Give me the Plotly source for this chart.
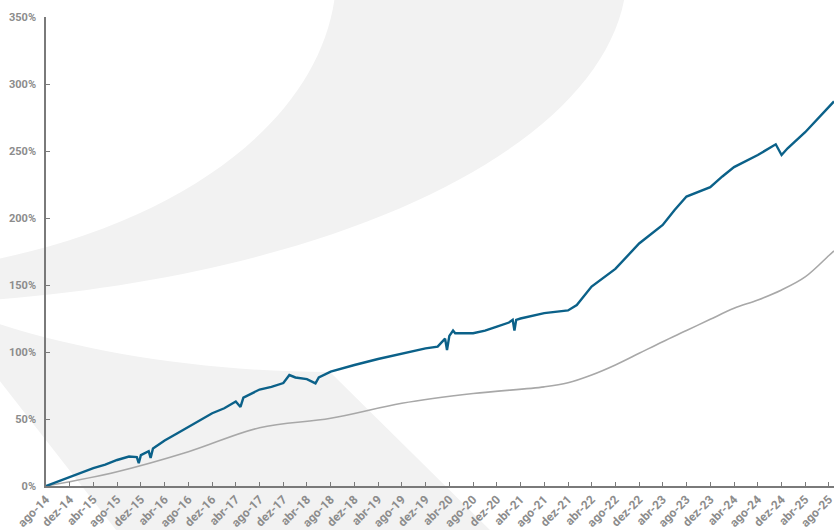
import plotly.graph_objects as go

# ---------------- data ----------------
blue_dates = [
    "2014-08-01", "2014-10-01", "2014-12-01", "2015-02-01", "2015-04-01", "2015-06-01",
    "2015-08-01", "2015-10-01", "2015-11-10", "2015-11-20", "2015-12-01", "2016-01-10",
    "2016-01-20", "2016-02-01", "2016-04-01", "2016-06-01", "2016-08-01", "2016-10-01",
    "2016-12-01", "2017-02-01", "2017-04-01", "2017-04-25", "2017-05-10", "2017-08-01",
    "2017-10-01", "2017-12-01", "2018-01-01", "2018-02-01", "2018-04-01", "2018-05-15",
    "2018-06-01", "2018-08-01", "2018-10-01", "2018-12-01", "2019-04-01", "2019-08-01",
    "2019-12-01", "2020-02-01", "2020-02-20", "2020-03-10", "2020-03-20", "2020-04-01",
    "2020-04-20", "2020-05-01", "2020-08-01", "2020-10-01", "2020-12-01", "2021-02-01",
    "2021-02-20", "2021-03-01", "2021-03-10", "2021-04-01", "2021-08-01", "2021-12-01",
    "2022-01-15", "2022-04-01", "2022-08-01", "2022-12-01", "2023-04-01", "2023-06-01",
    "2023-08-01", "2023-12-01", "2024-02-01", "2024-04-01", "2024-08-01", "2024-11-01",
    "2024-12-01", "2025-01-01", "2025-04-01", "2025-08-01", "2025-08-27",
]
blue_values = [
    0.0, 3.5, 7.0, 10.0, 13.4, 16.0,
    19.4, 22.0, 21.6, 17.0, 23.0, 26.0,
    21.0, 28.0, 34.0, 39.0, 44.0, 49.0,
    54.3, 58.0, 63.0, 59.0, 66.0, 72.0,
    74.0, 76.8, 82.8, 81.0, 79.8, 76.6,
    81.0, 85.3, 88.0, 90.3, 94.8, 99.0,
    102.7, 104.0, 107.0, 110.0, 101.5, 112.0,
    116.0, 114.0, 114.0, 116.0, 119.0, 122.0,
    124.0, 116.0, 124.0, 125.0, 129.0, 131.0,
    135.0, 148.8, 162.0, 181.0, 194.8, 206.0,
    216.0, 223.0, 231.0, 238.0, 247.0, 255.0,
    247.0, 252.0, 264.0, 283.0, 287.0,
]

grey_dates = [
    "2014-08-01", "2015-08-01", "2016-08-01", "2017-08-01", "2018-08-01", "2019-08-01",
    "2020-08-01", "2021-08-01", "2021-12-01", "2022-04-01", "2022-08-01", "2022-12-01",
    "2023-04-01", "2023-08-01", "2023-12-01", "2024-04-01", "2024-08-01", "2024-12-01",
    "2025-04-01", "2025-08-01", "2025-08-27",
]
grey_values = [
    0.0, 10.7, 25.6, 43.5, 50.5, 61.7,
    69.0, 74.0, 77.0, 82.8, 90.3, 99.0,
    107.7, 116.0, 124.4, 132.6, 138.8, 146.3,
    156.0, 172.0, 175.4,
]

tick_dates = []
tick_text = []
months_pt = {4: "abr", 8: "ago", 12: "dez"}
for year in range(2014, 2026):
    for m in (4, 8, 12):
        if (year == 2014 and m < 8) or (year == 2025 and m > 8):
            continue
        tick_dates.append(f"{year}-{m:02d}-01")
        tick_text.append(f"{months_pt[m]}-{str(year)[2:]}")

y_ticks = [0, 50, 100, 150, 200, 250, 300, 350]
y_text = [f"{v}%" for v in y_ticks]

# ---------------- figure ----------------
W, H = 834, 530
L, R, T, B = 46, 834, 17, 486


def px(x, y):
    return (x - L) / (R - L), (B - y) / (B - T)


def path(points_cmds):
    out = []
    for cmd, pts in points_cmds:
        coords = []
        for (x, y) in pts:
            a, b = px(x, y)
            coords.append(f"{a:.4f},{b:.4f}")
        out.append(cmd + " ".join(coords))
    return " ".join(out) + " Z"


wm = "#f2f2f2"
shapes = [
    # crescent
    dict(type="path", xref="paper", yref="paper", layer="below", line_width=0, fillcolor=wm,
         path=path([("M", [(335, -5)]), ("L", [(625, -5)]),
                    ("C", [(600, 150), (330, 280), (-40, 302)]),
                    ("L", [(-40, 266)]),
                    ("C", [(180, 230), (320, 120), (335, -5)])])),
    # lower band
    dict(type="path", xref="paper", yref="paper", layer="below", line_width=0, fillcolor=wm,
         path=path([("M", [(-40, 310)]),
                    ("C", [(60, 350), (200, 372), (330, 372)]),
                    ("L", [(495, 535)]), ("L", [(120, 535)]), ("L", [(-40, 330)])])),
]

fig = go.Figure()
fig.add_trace(go.Scatter(x=grey_dates, y=grey_values, mode="lines",
                         line=dict(color="#a8a8a8", width=1.6, shape="spline"),
                         hoverinfo="skip", showlegend=False))
fig.add_trace(go.Scatter(x=blue_dates, y=blue_values, mode="lines",
                         line=dict(color="#0b6189", width=2.4),
                         hoverinfo="skip", showlegend=False))

yfont = dict(family="Roboto", size=11, color="#8c8c8c", weight="bold")
xfont = dict(family="Roboto", size=12, color="#8c8c8c", weight="bold")
fig.update_layout(
    width=W, height=H,
    margin=dict(l=L, r=W - R, t=T, b=H - B),
    paper_bgcolor="white", plot_bgcolor="rgba(0,0,0,0)",
    shapes=shapes,
    showlegend=False,
    xaxis=dict(type="date", range=["2014-08-01", "2025-08-27"],
               tickvals=tick_dates, ticktext=tick_text, tickangle=-45,
               ticks="inside", ticklen=4, tickcolor="#7a7a7a", tickwidth=1,
               showline=True, linecolor="#7a7a7a", linewidth=1.5,
               showgrid=False, zeroline=False, tickfont=xfont,
               ticklabeloverflow="allow"),
    yaxis=dict(range=[0, 350], tickvals=y_ticks, ticktext=y_text,
               ticks="inside", ticklen=4, tickcolor="#7a7a7a", tickwidth=1,
               showline=True, linecolor="#7a7a7a", linewidth=1.5,
               showgrid=False, zeroline=False, tickfont=yfont,
               ticklabelstandoff=6),
)

fig.write_html("out.html", config={"displayModeBar": False},
               post_script="document.body.style.margin='0';document.body.style.overflow='hidden';")
